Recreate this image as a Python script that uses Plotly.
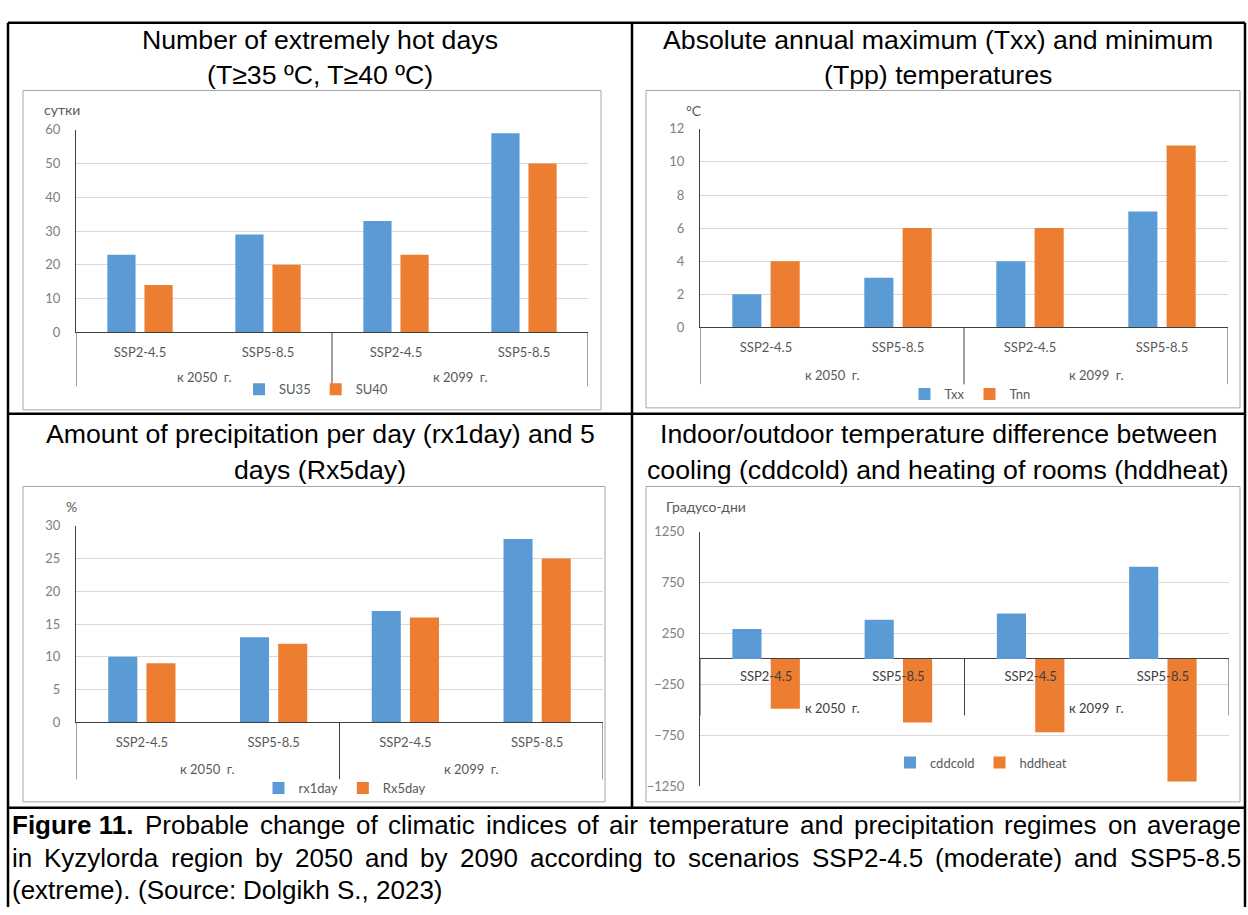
import plotly.graph_objects as go

# ---------------------------------------------------------------- data
scenarios = ["SSP2-4.5", "SSP5-8.5", "SSP2-4.5", "SSP5-8.5"]
periods = ["к 2050  г.", "к 2099  г."]

su35 = [23, 29, 33, 59]
su40 = [14, 20, 23, 50]

txx = [2, 3, 4, 7]
tnn = [4, 6, 6, 11]

rx1day = [10, 13, 17, 28]
rx5day = [9, 12, 16, 25]

cddcold = [295, 385, 445, 905]
hddheat = [-490, -625, -720, -1205]

titles = [
    ["Number of extremely hot days", "(T≥35 ºC, T≥40 ºC)"],
    ["Absolute annual maximum (Txx) and minimum", "(Tpp) temperatures"],
    ["Amount of precipitation per day (rx1day) and 5", "days (Rx5day)"],
    ["Indoor/outdoor temperature difference between",
     "cooling (cddcold) and heating of rooms (hddheat)"],
]

caption_label = "Figure 11."
caption_lines = [
    "Probable change of climatic indices of air temperature and precipitation regimes on average",
    "in Kyzylorda region by 2050 and by 2090 according to scenarios SSP2-4.5 (moderate) and SSP5-8.5",
    "(extreme). (Source: Dolgikh S., 2023)",
]

# ---------------------------------------------------------------- page geometry (pixels)
W, H = 1248, 915


def fx(x):
    return x / W


def fy(y):
    return 1 - y / H


BLUE = "#5B9BD5"
ORANGE = "#ED7D31"
GRID = "#D9D9D9"
AXIS = "#404040"
TXT = "#595959"
TICK = "#808080"
CHART_FONT = "Lato, Carlito, Calibri, sans-serif"
DOC_FONT = "Liberation Sans, Arial, sans-serif"
TITLE_SIZE = 26.7
CAPTION_SIZE = 26

# Arial / Liberation Sans advance widths (1/1000 em), used to justify the caption
_REG = dict(zip("abcdefghijklmnopqrstuvwxyz",
                [556, 556, 500, 556, 556, 278, 556, 556, 222, 222, 500, 222, 833,
                 556, 556, 556, 556, 333, 500, 278, 556, 500, 722, 500, 500, 500]))
_REG.update({"D": 722, "F": 611, "K": 667, "P": 667, "S": 667,
             ".": 278, ",": 278, "(": 333, ")": 333, ":": 278, "-": 333, " ": 278})
_REG.update({d: 556 for d in "0123456789"})
_BOLD = {"F": 611, "i": 278, "g": 611, "u": 611, "r": 389, "e": 556,
         "1": 556, ".": 278, " ": 278}


def text_width(s, size, bold=False):
    table = _BOLD if bold else _REG
    return sum(table.get(c, 556) for c in s) * size / 1000.0


panels = [
    dict(series=[("SU35", su35), ("SU40", su40)], unit="сутки",
         yrange=[0, 60], ytick=dict(dtick=10, tick0=0),
         box=(23, 84, 601, 409), plot=(76, 124, 588, 330),
         unit_xy=(62, 103), cat_y=347, grp_y=376, div_y=385, cat_color=TXT,
         leg=(316, 388), title_y=(33, 68), col_cx=320),
    dict(series=[("Txx", txx), ("Tnn", tnn)], unit="°C",
         yrange=[0, 12], ytick=dict(dtick=2, tick0=0),
         box=(646, 84, 1240, 407), plot=(700, 123, 1228, 325),
         unit_xy=(694, 104), cat_y=345, grp_y=374, div_y=383, cat_color=TXT,
         leg=(970, 393), title_y=(33, 68), col_cx=938),
    dict(series=[("rx1day", rx1day), ("Rx5day", rx5day)], unit="%",
         yrange=[0, 30], ytick=dict(dtick=5, tick0=0),
         box=(23, 487, 605, 808), plot=(76, 527, 603, 727),
         unit_xy=(71, 507), cat_y=746, grp_y=775, div_y=785, cat_color=TXT,
         leg=(345, 794), title_y=(434, 470), col_cx=320),
    dict(series=[("cddcold", cddcold), ("hddheat", hddheat)], unit="Градусо-дни",
         yrange=[-1250, 1250], ytick=dict(dtick=500, tick0=-1250),
         box=(646, 487, 1240, 808), plot=(700, 533, 1229, 792),
         unit_xy=(706, 507), cat_y=682, grp_y=712, div_y=720, cat_color=AXIS,
         leg=(981, 768), title_y=(434, 470), col_cx=938),
]

fig = go.Figure()
shapes = []
annotations = []
layout_axes = {}

for i, p in enumerate(panels, start=1):
    sfx = "" if i == 1 else str(i)
    xa, ya = "x" + sfx, "y" + sfx
    legend_name = "legend" + sfx
    positions = list(range(len(scenarios)))

    for (name, vals), color in zip(p["series"], [BLUE, ORANGE]):
        fig.add_trace(go.Bar(
            x=positions, y=vals, name=name, marker_color=color,
            marker_line_width=0, xaxis=xa, yaxis=ya, legend=legend_name,
            hoverinfo="name+y",
        ))

    x0, y0, x1, y1 = p["plot"]
    ydom = [fy(y1), fy(y0)]
    r0, r1 = p["yrange"]
    zero_pos = ydom[0] + (0 - r0) / (r1 - r0) * (ydom[1] - ydom[0])
    crosses_zero = r0 < 0 < r1

    xaxis = dict(
        domain=[fx(x0), fx(x1)], range=[-0.5, len(scenarios) - 0.5],
        tickmode="array", tickvals=positions, ticktext=scenarios,
        showgrid=False, zeroline=False, ticks="",
        tickfont=dict(family=CHART_FONT, size=13, color=p["cat_color"]),
        ticklabelstandoff=8, fixedrange=True,
    )
    if crosses_zero:
        xaxis.update(anchor="free", position=zero_pos, showline=False)
    else:
        xaxis.update(anchor=ya, showline=True, linecolor=AXIS, linewidth=1)

    yaxis = dict(
        domain=ydom, range=p["yrange"], tickmode="linear", **p["ytick"],
        showgrid=True, gridcolor=GRID, gridwidth=1,
        showline=True, linecolor=AXIS, linewidth=1, ticks="",
        zeroline=crosses_zero, zerolinecolor=AXIS, zerolinewidth=1,
        tickfont=dict(family=CHART_FONT, size=13, color=TICK),
        ticklabelstandoff=12, anchor=xa, fixedrange=True,
    )
    layout_axes["xaxis" + sfx] = xaxis
    layout_axes["yaxis" + sfx] = yaxis

    # chart frame
    bx0, by0, bx1, by1 = p["box"]
    shapes.append(dict(type="rect", xref="paper", yref="paper",
                       x0=fx(bx0), x1=fx(bx1), y0=fy(by1), y1=fy(by0),
                       line=dict(color="#A6A6A6", width=1), layer="below"))

    # category group dividers below the axis
    for xd in [-0.5, 1.5, len(scenarios) - 0.5]:
        shapes.append(dict(type="line", xref=xa, yref="paper",
                           x0=xd, x1=xd, y0=zero_pos, y1=fy(p["div_y"]),
                           line=dict(color=AXIS, width=1)))

    # period labels under each pair of scenarios
    for k, per in enumerate(periods):
        annotations.append(dict(
            x=2 * k + 0.5, y=fy(p["grp_y"]), xref=xa, yref="paper",
            text=per, showarrow=False, xanchor="center", yanchor="middle",
            font=dict(family=CHART_FONT, size=13, color=p["cat_color"])))

    # unit label above the value axis
    annotations.append(dict(
        x=fx(p["unit_xy"][0]), y=fy(p["unit_xy"][1]), xref="paper", yref="paper",
        text=p["unit"], showarrow=False, xanchor="center", yanchor="middle",
        font=dict(family=CHART_FONT, size=14, color=TXT)))

    # two-line panel title
    for line, ty in zip(titles[i - 1], p["title_y"]):
        annotations.append(dict(
            x=fx(p["col_cx"]), y=fy(ty), xref="paper", yref="paper",
            text=line, showarrow=False, xanchor="center", yanchor="middle",
            font=dict(family=DOC_FONT, size=TITLE_SIZE, color="#000000")))

    lx, ly = p["leg"]
    layout_axes[legend_name] = dict(
        orientation="h", x=fx(lx), y=fy(ly), xanchor="center", yanchor="middle",
        font=dict(family=CHART_FONT, size=13, color=TXT),
        bgcolor="rgba(0,0,0,0)", itemclick=False, itemdoubleclick=False,
        tracegroupgap=0,
    )

# table rules around the panels and the caption
TL, TR, TT, TB = 8, 1245, 15, 915
for xa_, ya_, xb_, yb_ in [
    (TL, TT, TR, TT), (TL, TT, TL, TB), (TR, TT, TR, TB),
    (632, TT, 632, 814), (TL, 413, TR, 413), (TL, 814, TR, 814),
]:
    shapes.append(dict(type="line", xref="paper", yref="paper",
                       x0=fx(xa_), x1=fx(xb_), y0=fy(ya_), y1=fy(yb_),
                       line=dict(color="#000000", width=2.5)))

# caption: justified lines (all but the last), word by word
CAP_L, CAP_R = 11, 1240
cap_y = [832, 865, 898]
for n, (line, ty) in enumerate(zip(caption_lines, cap_y)):
    words = [(w, False) for w in line.split(" ")]
    if n == 0:
        words = [(caption_label, True)] + words
    widths = [text_width(w, CAPTION_SIZE, b) for w, b in words]
    last = n == len(caption_lines) - 1
    if last:
        gap = text_width(" ", CAPTION_SIZE)
    else:
        gap = (CAP_R - CAP_L - sum(widths)) / (len(words) - 1)
    x = CAP_L
    for (w, bold), wd in zip(words, widths):
        annotations.append(dict(
            x=fx(x), y=fy(ty), xref="paper", yref="paper",
            text=f"<b>{w}</b>" if bold else w,
            showarrow=False, xanchor="left", yanchor="middle", borderpad=0,
            font=dict(family=DOC_FONT, size=CAPTION_SIZE, color="#000000")))
        x += wd + gap

fig.update_layout(
    width=W, height=H, margin=dict(l=0, r=0, t=0, b=0),
    paper_bgcolor="white", plot_bgcolor="white",
    barmode="group", bargap=0.42, bargroupgap=0.24,
    shapes=shapes, annotations=annotations, **layout_axes,
)

fig.write_html("out.html")
